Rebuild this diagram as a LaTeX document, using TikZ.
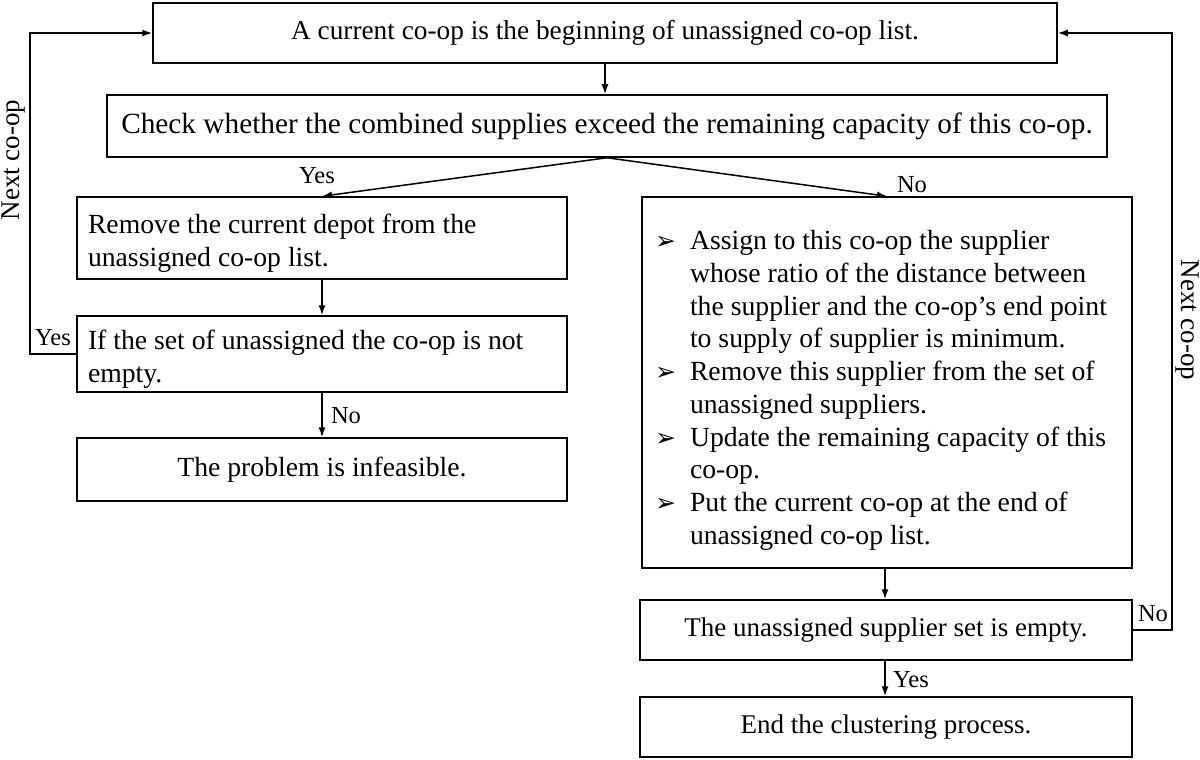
\documentclass[tikz,border=0pt]{standalone}
\usepackage{fontspec}
\setmainfont{Liberation Serif}
\newfontfamily\dejavu{DejaVu Sans}
\usetikzlibrary{arrows.meta,positioning}
\newcommand{\bul}{\makebox[35pt][l]{\raisebox{0pt}{\dejavu\fontsize{25}{25}\selectfont ➢}}}
\newcommand{\ind}{\hspace*{35pt}}
\tikzset{
  box/.style={draw, line width=1.5pt, inner sep=0pt, font=\fontsize{27.7}{32.7}\selectfont},
  lbox/.style={box, align=flush left, inner xsep=11pt},
  arr/.style={line width=1.5pt, -{Latex[length=10pt,width=7pt]}},
  lab/.style={font=\fontsize{24.5}{28}\selectfont, inner sep=0pt},
}
\begin{document}
\begin{tikzpicture}[x=1pt,y=-1pt]
\useasboundingbox (0,0) rectangle (1200,760);
\node[box, minimum width=904pt, minimum height=60pt, font=\fontsize{27.3}{32}\selectfont] (b1) at (605,33) {A current co-op is the beginning of unassigned co-op list.};
\node[box, minimum width=1000pt, minimum height=62pt, font=\fontsize{29.3}{34}\selectfont] (b2) at (607,126) {Check whether the combined supplies exceed the remaining capacity of this co-op.};
\node[lbox, minimum width=490pt, minimum height=82pt, text width=468pt] (b3) at (322,238) {\rule{0pt}{30pt}Remove the current depot from the\\unassigned co-op list.};
\node[lbox, minimum width=490pt, minimum height=76pt, text width=468pt] (b4) at (322,354) {\rule{0pt}{30pt}If the set of unassigned the co-op is not\\empty.};
\node[box, minimum width=490pt, minimum height=63pt] (b5) at (322,469.5) {The problem is infeasible.};
\node[lbox, minimum width=490pt, minimum height=371pt, text width=464pt, inner xsep=13pt] (b6) at (887,382.5) {%
\rule{0pt}{35pt}\bul Assign to this co-op the supplier\\
\ind whose ratio of the distance between\\
\ind the supplier and the co-op’s end point\\
\ind to supply of supplier is minimum.\\
\bul Remove this supplier from the set of\\
\ind unassigned suppliers.\\
\bul Update the remaining capacity of this\\
\ind co-op.\\
\bul Put the current co-op at the end of\\
\ind unassigned co-op list.};
\node[box, minimum width=492pt, minimum height=60pt, font=\fontsize{27}{32}\selectfont] (b7) at (886,630) {The unassigned supplier set is empty.};
\node[box, minimum width=492pt, minimum height=60pt, font=\fontsize{27}{32}\selectfont] (b8) at (886,727) {End the clustering process.};

\coordinate (top) at (b2.south);
\coordinate (lc1) at (30,354);
\coordinate (lc2) at (30,33);
\coordinate (rc1) at (1172,630);
\coordinate (rc2) at (1172,33);

\draw[arr] (b1.south -| 605,0) -- (b2.north -| 605,0);
\draw[arr] (top) -- (b3.north);
\draw[arr] (top) -- (b6.north);
\draw[arr] (b3) -- (b4);
\draw[arr] (b4) -- (b5);
\draw[arr] (b6.south -| 885,0) -- (b7.north -| 885,0);
\draw[arr] (b7.south -| 885,0) -- (b8.north -| 885,0);
\draw[arr] (b4.west) -- (lc1) -- (lc2) -- (b1.west);
\draw[arr] (b7.east) -- (rc1) -- (rc2) -- (b1.east);

\node[lab] (ly1) at (317,176) {Yes};
\node[lab] (ln1) at (912,185) {No};
\node[lab] (ln2) at (346,416) {No};
\node[lab] (ly2) at (53,338) {Yes};
\node[lab] (ly3) at (911,680) {Yes};
\node[lab] (ln3) at (1153,614) {No};
\node[lab, rotate=90, font=\fontsize{27}{30}\selectfont] (lnx1) at (14,160) {Next co-op};
\node[lab, rotate=-90, font=\fontsize{27}{30}\selectfont] (lnx2) at (1187,320) {Next co-op};
\end{tikzpicture}
\end{document}
